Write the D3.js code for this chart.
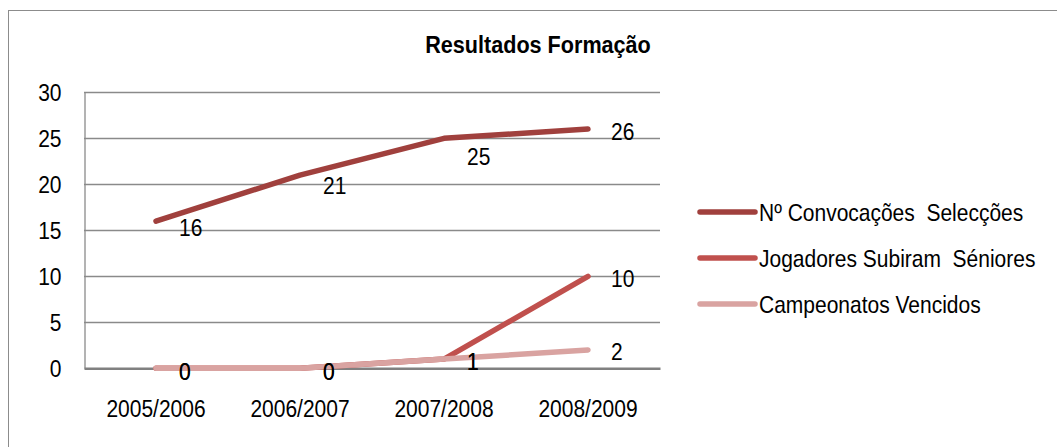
<!DOCTYPE html>
<html><head><meta charset="utf-8">
<script src="https://cdn.jsdelivr.net/npm/d3@7"></script>
<style>
body{margin:0;background:#fff}
svg{display:block}
text{font-family:"Liberation Sans",Arial,sans-serif;fill:#000}
</style>
</head><body>
<svg id="c" width="1057" height="447"></svg>
<script>
const title = "Resultados Formação";
const categories = ["2005/2006", "2006/2007", "2007/2008", "2008/2009"];
const convocacoes = [16, 21, 25, 26];
const jogadores = [0, 0, 1, 10];
const campeonatos = [0, 0, 1, 2];
const seriesNames = ["Nº Convocações  Selecções", "Jogadores Subiram  Séniores", "Campeonatos Vencidos"];
const yTicks = [0, 5, 10, 15, 20, 25, 30];

const seriesColors = ["#A0403D", "#C0504D", "#D9A3A1"];
// vertical nudges of the data labels (style, in px)
const labelDy = [[6.5, 10, 18, 2], [3, 3, 2, 2], [3, 3, 2, 1]];

const series = [convocacoes, jogadores, campeonatos].map((v, i) => ({name: seriesNames[i], values: v, color: seriesColors[i], dy: labelDy[i]}));

const svg = d3.select("#c");
const FS = 24;
const K = 0.875; // horizontal condensing, to mimic a narrow face
const plot = {left: 84, right: 660, top: 92.3, bottom: 368.3};

function narrow(sel, k = K) {
  sel.each(function() {
    const t = d3.select(this);
    const xv = +(t.attr("x") || 0);
    t.attr("x", xv / k).attr("transform", `scale(${k},1)`);
  });
}

// outer frame
svg.append("rect").attr("x", 8.5).attr("y", 10.5).attr("width", 1200).attr("height", 600)
  .attr("fill", "#fff").attr("stroke", "#8c8c8c").attr("stroke-width", 1);

const x = d3.scaleBand().domain(categories).range([plot.left, plot.right]).padding(0);
const y = d3.scaleLinear().domain([0, 30]).range([plot.bottom, plot.top]);

// gridlines
svg.append("g").selectAll("line").data(yTicks.filter(t => t > 0)).join("line")
  .attr("x1", plot.left).attr("x2", plot.right)
  .attr("y1", d => Math.round(y(d)) + 0.5).attr("y2", d => Math.round(y(d)) + 0.5)
  .attr("stroke", "#8a8a8a").attr("stroke-width", 1.3);

// y axis
const yAxis = d3.axisLeft(y).tickValues(yTicks).tickSize(0).tickPadding(23);
const gy = svg.append("g").attr("transform", `translate(${plot.left + 0.5},0)`).call(yAxis);
gy.select(".domain").attr("stroke", "#8a8a8a").attr("stroke-width", 1.3);
gy.selectAll("text").attr("font-size", FS).attr("font-family", null).attr("dy", "0.36em").call(narrow);

// x axis
const xAxis = d3.axisBottom(x).tickSize(0).tickPadding(32);
const gx = svg.append("g").attr("transform", `translate(0,${plot.bottom})`).call(xAxis);
gx.select(".domain").attr("stroke", "#808080").attr("stroke-width", 2.6);
gx.selectAll("text").attr("font-size", FS).attr("font-family", null).call(narrow);

// lines
const cx = c => x(c) + x.bandwidth() / 2;
const line = d3.line().x((d, i) => cx(categories[i])).y(d => y(d));
svg.append("g").selectAll("path").data(series).join("path")
  .attr("d", d => line(d.values))
  .attr("fill", "none").attr("stroke", d => d.color).attr("stroke-width", 5.5)
  .attr("stroke-linecap", "round").attr("stroke-linejoin", "round");

// data labels
series.forEach(s => {
  svg.append("g").selectAll("text").data(s.values).join("text")
    .attr("x", (d, i) => cx(categories[i]) + 23)
    .attr("y", (d, i) => y(d) + s.dy[i])
    .attr("dy", "0.36em")
    .attr("font-size", FS)
    .text(d => d)
    .call(narrow);
});

// title
svg.append("text").attr("x", 538).attr("y", 53).attr("text-anchor", "middle")
  .attr("font-size", FS).attr("font-weight", "bold").text(title).call(narrow, 0.9);

// legend
const lg = svg.append("g");
series.forEach((s, i) => {
  const ly = 212 + i * 46;
  lg.append("line").attr("x1", 700).attr("x2", 755).attr("y1", ly).attr("y2", ly)
    .attr("stroke", s.color).attr("stroke-width", 5.5).attr("stroke-linecap", "round");
  lg.append("text").attr("x", 759).attr("y", ly).attr("dy", "0.36em")
    .attr("font-size", FS).style("white-space", "pre").text(s.name).call(narrow);
});
</script>
</body></html>
